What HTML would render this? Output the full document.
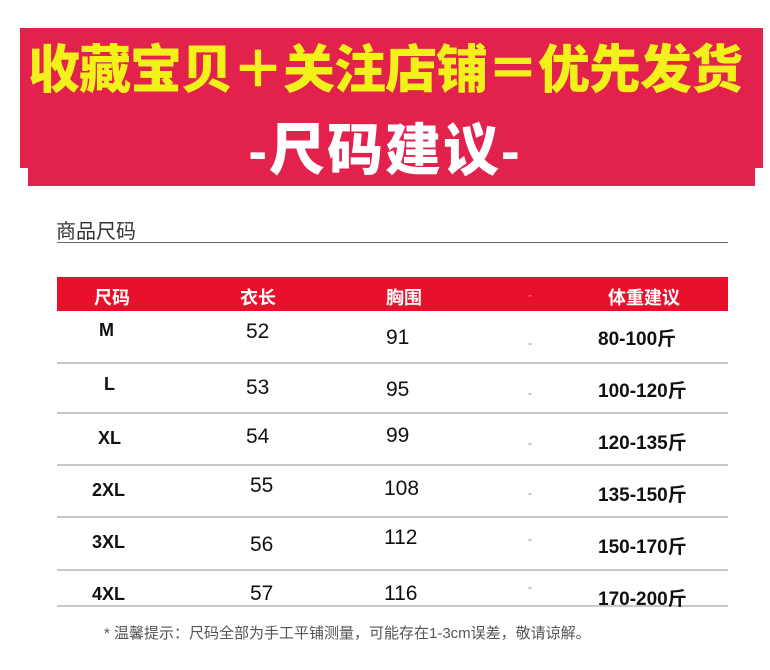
<!DOCTYPE html>
<html><head><meta charset="utf-8"><style>
body{margin:0;width:770px;height:670px;background:#fff;position:relative;overflow:hidden;font-family:"Liberation Sans","Noto Sans CJK SC",sans-serif}
.a{position:absolute;white-space:nowrap}
.ban{position:absolute;background:#e3214d}
.t1{left:0;width:770px;text-align:center;top:28px;font-size:52px;font-weight:900;color:#f2f21a;letter-spacing:-1px}
.t2{left:0;width:770px;text-align:center;top:106px;font-size:56px;font-weight:900;color:#fff;letter-spacing:2px}
.line{position:absolute;left:57px;width:671px;height:2px;background:#c8c8c8}
.h{color:#fff;font-weight:bold;font-size:18px;top:284px}
.d{font-size:21px;color:#111}
.s{font-size:12px;color:#888}
</style></head><body>
<div class="ban" style="top:28px;height:140px;left:20px;width:743px"></div>
<div class="ban" style="top:150px;height:36px;left:28px;width:727px"></div>
<div class="a t1">收藏宝贝＋关注店铺＝优先发货</div>
<div class="a t2">-尺码建议-</div>
<div class="a" style="left:56px;top:215px;font-size:20px;color:#333">商品尺码</div>
<div class="line" style="top:242px;height:1px;background:#666"></div>
<div style="position:absolute;left:57px;top:277px;width:671px;height:34px;background:#e8102a"></div>
<div class="a h" style="left:94px">尺码</div>
<div class="a h" style="left:240px">衣长</div>
<div class="a h" style="left:386px">胸围</div>
<div class="a h" style="left:528px;color:#f58;font-size:12px;top:288px">-</div>
<div class="a h" style="left:608px">体重建议</div>

<div class="line" style="top:362px"></div>
<div class="line" style="top:412px"></div>
<div class="line" style="top:464px"></div>
<div class="line" style="top:516px"></div>
<div class="line" style="top:569px"></div>
<div class="line" style="top:605px"></div>

<div class="a d" style="left:99px;top:320px;font-weight:bold;font-size:18px">M</div>
<div class="a d" style="left:246px;top:320px">52</div>
<div class="a d" style="left:386px;top:326px">91</div>
<div class="a s" style="left:528px;top:336px">-</div>
<div class="a d" style="left:598px;top:324px;font-size:19px;font-weight:bold">80-100斤</div>

<div class="a d" style="left:104px;top:374px;font-weight:bold;font-size:18px">L</div>
<div class="a d" style="left:246px;top:376px">53</div>
<div class="a d" style="left:386px;top:378px">95</div>
<div class="a s" style="left:528px;top:386px">-</div>
<div class="a d" style="left:598px;top:376px;font-size:19px;font-weight:bold">100-120斤</div>

<div class="a d" style="left:98px;top:428px;font-weight:bold;font-size:18px">XL</div>
<div class="a d" style="left:246px;top:425px">54</div>
<div class="a d" style="left:386px;top:424px">99</div>
<div class="a s" style="left:528px;top:436px">-</div>
<div class="a d" style="left:598px;top:428px;font-size:19px;font-weight:bold">120-135斤</div>

<div class="a d" style="left:92px;top:480px;font-weight:bold;font-size:18px">2XL</div>
<div class="a d" style="left:250px;top:474px">55</div>
<div class="a d" style="left:384px;top:477px">108</div>
<div class="a s" style="left:528px;top:486px">-</div>
<div class="a d" style="left:598px;top:480px;font-size:19px;font-weight:bold">135-150斤</div>

<div class="a d" style="left:92px;top:532px;font-weight:bold;font-size:18px">3XL</div>
<div class="a d" style="left:250px;top:533px">56</div>
<div class="a d" style="left:384px;top:526px">112</div>
<div class="a s" style="left:528px;top:532px">-</div>
<div class="a d" style="left:598px;top:532px;font-size:19px;font-weight:bold">150-170斤</div>

<div class="a d" style="left:92px;top:584px;font-weight:bold;font-size:18px">4XL</div>
<div class="a d" style="left:250px;top:582px">57</div>
<div class="a d" style="left:384px;top:582px">116</div>
<div class="a s" style="left:528px;top:580px">-</div>
<div class="a d" style="left:598px;top:584px;font-size:19px;font-weight:bold">170-200斤</div>

<div class="a" style="left:104px;top:622px;font-size:15px;color:#555">* 温馨提示：尺码全部为手工平铺测量，可能存在1-3cm误差，敬请谅解。</div>
</body></html>
